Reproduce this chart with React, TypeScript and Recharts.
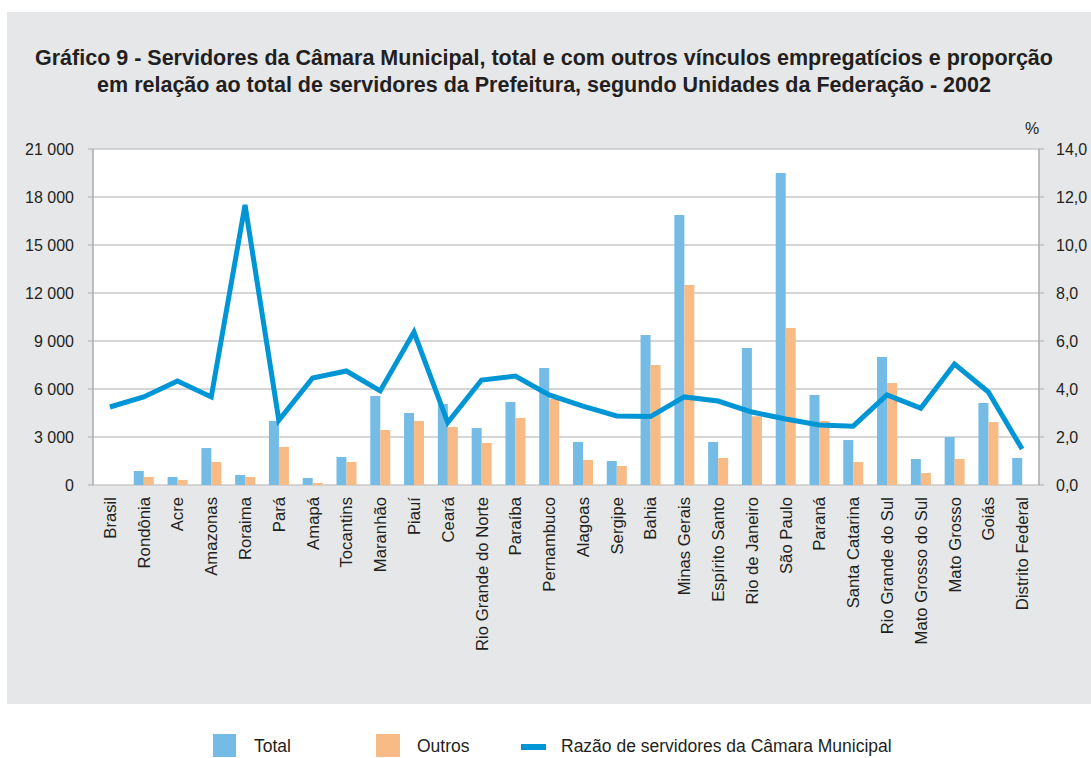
import React from "react";
import {
  ComposedChart,
  Bar,
  Line,
  XAxis,
  YAxis,
  CartesianGrid,
} from "recharts";

const categories = [
  "Brasil", "Rondônia", "Acre", "Amazonas", "Roraima", "Pará", "Amapá", "Tocantins",
  "Maranhão", "Piauí", "Ceará", "Rio Grande do Norte", "Paraíba", "Pernambuco",
  "Alagoas", "Sergipe", "Bahia", "Minas Gerais", "Espírito Santo", "Rio de Janeiro",
  "São Paulo", "Paraná", "Santa Catarina", "Rio Grande do Sul", "Mato Grosso do Sul",
  "Mato Grosso", "Goiás", "Distrito Federal",
];

const totalValues = [
  null, 875, 500, 2310, 625, 4000, 440, 1750, 5560, 4500, 5060, 3560, 5190, 7310,
  2690, 1500, 9375, 16875, 2690, 8560, 19500, 5625, 2810, 8000, 1625, 3000, 5125, 1690,
];

const outrosValues = [
  null, 500, 310, 1440, 500, 2375, 125, 1440, 3440, 4000, 3625, 2625, 4190, 5375,
  1560, 1190, 7500, 12500, 1690, 4300, 9810, 4000, 1440, 6375, 750, 1625, 3940, null,
];

const razaoValues = [
  3.25, 3.67, 4.33, 3.67, 11.67, 2.7, 4.46, 4.75, 3.92, 6.37, 2.6, 4.375, 4.54, 3.75,
  3.29, 2.875, 2.85, 3.67, 3.5, 3.04, 2.75, 2.5, 2.45, 3.75, 3.2, 5.04, 3.875, 1.5,
];

const leftTicks = [0, 3000, 6000, 9000, 12000, 15000, 18000, 21000];
const rightTicks = [0, 2, 4, 6, 8, 10, 12, 14];
const boundaryTicks = categories.map((_, i) => i).concat([categories.length]);

const data = categories.map((c, i) => ({
  name: c,
  total: totalValues[i],
  outros: outrosValues[i],
  razao: razaoValues[i],
}));

const FONT = "'Liberation Sans', Arial, Helvetica, sans-serif";
const BLUE = "#74BCE6";
const ORANGE = "#F9BB85";
const LINE = "#0096D6";
const GRID = "#C8C8C8";
const AXIS = "#ABABAB";
const TEXT = "#231F20";

const fmtLeft = (v: number) =>
  v >= 1000 ? `${Math.floor(v / 1000)} ${String(v % 1000).padStart(3, "0")}` : String(v);
const fmtRight = (v: number) => v.toFixed(1).replace(".", ",");

const XTick = (props: any) => {
  const { x, y, payload } = props;
  return (
    <text
      transform={`translate(${x},${y}) rotate(-90)`}
      textAnchor="end"
      dy="0.36em"
      fontSize={16.7}
      fontFamily={FONT}
      fill={TEXT}
    >
      {payload.value}
    </text>
  );
};

const EmptyTick = () => <g />;

export default function App() {
  return (
    <div
      style={{
        position: "relative",
        width: 1091,
        height: 758,
        overflow: "hidden",
        background: "#ffffff",
        fontFamily: FONT,
      }}
    >
      <style>{`html,body{margin:0;padding:0;overflow:hidden;}`}</style>
      <div style={{ position: "absolute", left: 8, top: 12, width: 1083, height: 746 }}>
        <div
          style={{
            position: "absolute",
            left: -1,
            top: 0,
            width: 1084,
            height: 692,
            background: "#E6E7E9",
          }}
        />
        <div
          style={{
            position: "absolute",
            left: 0,
            top: 33,
            width: 1072,
            textAlign: "center",
            fontWeight: "bold",
            fontSize: 21.5,
            lineHeight: "27px",
            color: TEXT,
            whiteSpace: "nowrap",
          }}
        >
          Gráfico 9 - Servidores da Câmara Municipal, total e com outros vínculos empregatícios e proporção
          <br />
          em relação ao total de servidores da Prefeitura, segundo Unidades da Federação - 2002
        </div>
        <div
          style={{
            position: "absolute",
            left: 1017,
            top: 108,
            fontSize: 16,
            color: TEXT,
          }}
        >
          %
        </div>
        <div style={{ position: "absolute", left: 0, top: 0 }}>
          <ComposedChart
            width={1083}
            height={692}
            data={data}
            margin={{ top: 137, right: 0, left: 0, bottom: 0 }}
            barGap={0}
          >
            <CartesianGrid
              xAxisId="cat"
              yAxisId="left"
              vertical={false}
              stroke={GRID}
              strokeWidth={1.5}
              fill="#ffffff"
              fillOpacity={1}
            />
            <XAxis
              xAxisId="grid"
              type="number"
              domain={[0, categories.length]}
              ticks={boundaryTicks}
              tick={<EmptyTick />}
              tickSize={5}
              tickLine={{ stroke: AXIS }}
              axisLine={{ stroke: AXIS, strokeWidth: 1.5 }}
              height={0}
              allowDataOverflow
            />
            <XAxis
              xAxisId="cat"
              dataKey="name"
              type="category"
              interval={0}
              tick={<XTick />}
              tickSize={5}
              tickMargin={7}
              tickLine={false}
              axisLine={false}
              height={219}
            />
            <YAxis
              yAxisId="left"
              orientation="left"
              domain={[0, 21000]}
              ticks={leftTicks}
              tickFormatter={fmtLeft}
              width={85}
              tickSize={5}
              tickMargin={14}
              interval={0}
              tickLine={{ stroke: AXIS }}
              axisLine={{ stroke: AXIS, strokeWidth: 1.5 }}
              tick={{ fontSize: 16, fill: TEXT, fontFamily: FONT }}
            />
            <YAxis
              yAxisId="right"
              orientation="right"
              domain={[0, 14]}
              ticks={rightTicks}
              tickFormatter={fmtRight}
              width={52}
              tickSize={5}
              tickMargin={12}
              interval={0}
              tickLine={{ stroke: AXIS }}
              axisLine={{ stroke: AXIS, strokeWidth: 1.5 }}
              tick={{ fontSize: 16, fill: TEXT, fontFamily: FONT, textAnchor: "start" }}
            />
            <Bar
              xAxisId="cat"
              yAxisId="left"
              dataKey="total"
              name="Total"
              fill={BLUE}
              barSize={10}
              isAnimationActive={false}
            />
            <Bar
              xAxisId="cat"
              yAxisId="left"
              dataKey="outros"
              name="Outros"
              fill={ORANGE}
              barSize={10}
              isAnimationActive={false}
            />
            <Line
              xAxisId="cat"
              yAxisId="right"
              dataKey="razao"
              name="Razão de servidores da Câmara Municipal"
              type="linear"
              stroke={LINE}
              strokeWidth={5}
              dot={false}
              activeDot={false}
              isAnimationActive={false}
            />
          </ComposedChart>
        </div>
        <div
          style={{
            position: "absolute",
            top: 722,
            left: 0,
            width: 1083,
            height: 24,
            fontSize: 17.5,
            color: TEXT,
          }}
        >
          <div style={{ position: "absolute", left: 205, top: 0, width: 23, height: 23, background: BLUE }} />
          <div style={{ position: "absolute", left: 246, top: 2 }}>Total</div>
          <div style={{ position: "absolute", left: 368, top: 0, width: 24, height: 23, background: ORANGE }} />
          <div style={{ position: "absolute", left: 409, top: 2 }}>Outros</div>
          <div style={{ position: "absolute", left: 513, top: 10, width: 25, height: 6, background: LINE }} />
          <div style={{ position: "absolute", left: 553, top: 2, whiteSpace: "nowrap" }}>
            Razão de servidores da Câmara Municipal
          </div>
        </div>
      </div>
    </div>
  );
}
